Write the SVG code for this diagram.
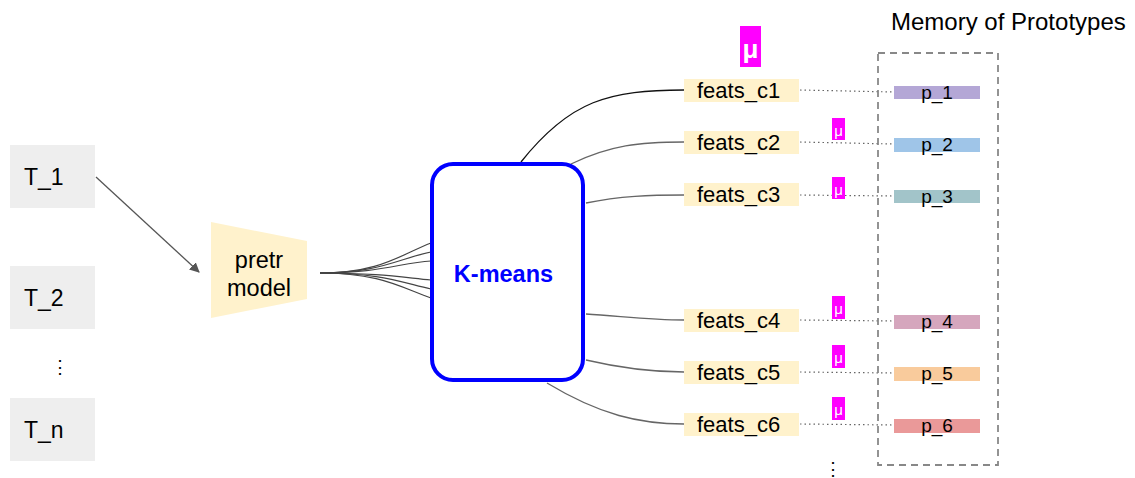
<svg xmlns="http://www.w3.org/2000/svg" width="1135" height="478" viewBox="0 0 1135 478">
<style>
text{font-family:"Liberation Sans",Arial,sans-serif;fill:#000}
.t{fill:#eeeeee}
.tt{font-size:23px}
.f{fill:#fff2cc}
.ft{font-size:22px}
.pt{font-size:19px;text-anchor:middle}
.c{fill:none;stroke:#666;stroke-width:1.3}
.fan{fill:none;stroke:#444;stroke-width:1.2}
.d{fill:none;stroke:#666;stroke-width:1.2;stroke-dasharray:1.5 3}
.mu{fill:#ff00ff}
.mut{fill:#fff;text-anchor:middle}
.dots{font-size:18px;text-anchor:middle}
</style>
<defs>
<marker id="ah" markerWidth="10" markerHeight="10" refX="9" refY="5" orient="auto" markerUnits="userSpaceOnUse" viewBox="0 0 10 10">
<path d="M0,0 L10,5 L0,10 z" fill="#555"/>
</marker>
</defs>
<g id="connectors">
<line x1="96" y1="177" x2="199" y2="272" stroke="#555" stroke-width="1.3" marker-end="url(#ah)"/>
<path class="fan" d="M320,273 C380,273 400,255 431,243"/>
<path class="fan" d="M320,273 C380,273 400,258 431,252"/>
<path class="fan" d="M320,273 C380,273 400,263 431,261"/>
<path class="fan" d="M320,273 C380,273 400,277 431,280"/>
<path class="fan" d="M320,273 C380,273 400,282 431,289"/>
<path class="fan" d="M320,273 C380,273 400,287 431,298"/>
<path d="M521,162 C570,100 610,90 684,90" fill="none" stroke="#111" stroke-width="1.3"/>
<path class="c" d="M571,164 C610,145 640,142 684,142"/>
<path class="c" d="M586,203 C620,196 650,195 684,195"/>
<path class="c" d="M586,314 C620,316 650,320 684,320"/>
<path class="c" d="M586,360 C620,368 650,372 684,372"/>
<path class="c" d="M547,383 C600,415 640,424 684,424"/>
<path class="d" d="M800,90 L893,92"/>
<path class="d" d="M800,142 L893,144"/>
<path class="d" d="M800,195 L893,196"/>
<path class="d" d="M800,320 L893,321"/>
<path class="d" d="M800,372 L893,373"/>
<path class="d" d="M800,424 L893,425"/>
</g>
<g id="T_1"><rect class="t" x="10" y="145" width="85" height="63"/><text class="tt" x="24" y="185">T_1</text></g>
<g id="T_2"><rect class="t" x="10" y="266" width="85" height="63"/><text class="tt" x="24" y="306">T_2</text></g>
<g id="T_dots"><text class="dots" x="60" y="373">⋮</text></g>
<g id="T_n"><rect class="t" x="10" y="398" width="85" height="63"/><text class="tt" x="24" y="438">T_n</text></g>
<g id="pretr"><path class="f" d="M211,222 L307,241 L307,299 L211,318 z"/><text font-size="23.5" text-anchor="middle" x="259" y="268">pretr</text><text font-size="23.5" text-anchor="middle" x="259" y="296">model</text></g>
<g id="kmeans"><rect x="432" y="164" width="151" height="216" rx="21" fill="#fff" stroke="#0000ff" stroke-width="4"/><text x="503.5" y="282" font-size="23.5" font-weight="bold" text-anchor="middle" style="fill:#0000ff">K-means</text></g>
<g id="feats_c1"><rect class="f" x="684" y="79" width="115" height="23"/><text class="ft" x="697" y="98">feats_c1</text></g>
<g id="feats_c2"><rect class="f" x="684" y="131" width="115" height="23"/><text class="ft" x="697" y="150">feats_c2</text></g>
<g id="feats_c3"><rect class="f" x="684" y="183" width="115" height="23"/><text class="ft" x="697" y="202">feats_c3</text></g>
<g id="feats_c4"><rect class="f" x="684" y="309" width="115" height="23"/><text class="ft" x="697" y="328">feats_c4</text></g>
<g id="feats_c5"><rect class="f" x="684" y="361" width="115" height="23"/><text class="ft" x="697" y="380">feats_c5</text></g>
<g id="feats_c6"><rect class="f" x="684" y="413" width="115" height="23"/><text class="ft" x="697" y="432">feats_c6</text></g>
<g id="mu_big"><rect class="mu" x="740" y="26" width="21" height="41"/><text class="mut" x="750.5" y="58" font-size="26" font-weight="bold">μ</text></g>
<g id="mu_2"><rect class="mu" x="832" y="118" width="13" height="22"/><text class="mut" x="838.5" y="136" font-size="15">μ</text></g>
<g id="mu_3"><rect class="mu" x="832" y="177" width="13" height="22"/><text class="mut" x="838.5" y="195" font-size="15">μ</text></g>
<g id="mu_4"><rect class="mu" x="832" y="296" width="13" height="23"/><text class="mut" x="838.5" y="314" font-size="15">μ</text></g>
<g id="mu_5"><rect class="mu" x="832" y="345" width="13" height="23"/><text class="mut" x="838.5" y="363" font-size="15">μ</text></g>
<g id="mu_6"><rect class="mu" x="832" y="397" width="13" height="23"/><text class="mut" x="838.5" y="415" font-size="15">μ</text></g>
<g id="memory">
<text x="891" y="30" font-size="24">Memory of Prototypes</text>
<rect x="878" y="53" width="120" height="412" fill="none" stroke="#888" stroke-width="1.8" stroke-dasharray="7 5"/>
</g>
<g id="p_1"><rect x="894" y="86" width="86" height="13" fill="#b4a7d6"/><text class="pt" x="937" y="99">p_1</text></g>
<g id="p_2"><rect x="894" y="138" width="86" height="14" fill="#9fc5e8"/><text class="pt" x="937" y="151">p_2</text></g>
<g id="p_3"><rect x="894" y="190" width="86" height="13" fill="#a2c4c9"/><text class="pt" x="937" y="203">p_3</text></g>
<g id="p_4"><rect x="894" y="315" width="86" height="14" fill="#d5a6bd"/><text class="pt" x="937" y="328">p_4</text></g>
<g id="p_5"><rect x="894" y="367" width="86" height="14" fill="#f9cb9c"/><text class="pt" x="937" y="380">p_5</text></g>
<g id="p_6"><rect x="894" y="419" width="86" height="14" fill="#ea9999"/><text class="pt" x="937" y="432">p_6</text></g>
<g id="more_dots"><text class="dots" x="833" y="475" font-size="16">⋮</text></g>
</svg>
